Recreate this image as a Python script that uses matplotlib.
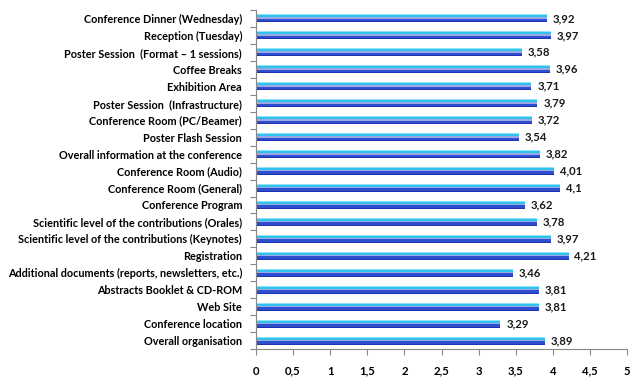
import matplotlib
matplotlib.use("Agg")
import matplotlib.pyplot as plt
from matplotlib.ticker import FixedLocator
import numpy as np

categories = [
    "Conference Dinner (Wednesday)",
    "Reception (Tuesday)",
    "Poster Session  (Format \u2013 1 sessions)",
    "Coffee Breaks",
    "Exhibition Area",
    "Poster Session  (Infrastructure)",
    "Conference Room (PC/Beamer)",
    "Poster Flash Session",
    "Overall information at the conference",
    "Conference Room (Audio)",
    "Conference Room (General)",
    "Conference Program",
    "Scientific level of the contributions (Orales)",
    "Scientific level of the contributions (Keynotes)",
    "Registration",
    "Additional documents (reports, newsletters, etc.)",
    "Abstracts Booklet & CD-ROM",
    "Web Site",
    "Conference location",
    "Overall organisation",
]
values = [3.92, 3.97, 3.58, 3.96, 3.71, 3.79, 3.72, 3.54, 3.82, 4.01,
          4.1, 3.62, 3.78, 3.97, 4.21, 3.46, 3.81, 3.81, 3.29, 3.89]
labels = ["3,92", "3,97", "3,58", "3,96", "3,71", "3,79", "3,72", "3,54", "3,82", "4,01",
          "4,1", "3,62", "3,78", "3,97", "4,21", "3,46", "3,81", "3,81", "3,29", "3,89"]
xticks = [0, 0.5, 1, 1.5, 2, 2.5, 3, 3.5, 4, 4.5, 5]
xticklabels = ["0", "0,5", "1", "1,5", "2", "2,5", "3", "3,5", "4", "4,5", "5"]

plt.rcParams['font.family'] = ['Lato', 'DejaVu Sans']

fig = plt.figure(figsize=(6.4, 3.82), dpi=100)
ax = fig.add_axes([0.4, 0.086, 0.58, 0.888])

n = len(categories)
ypos = np.arange(n)[::-1]  # first category at top
bar_h = 0.48
stripes = [(0.12, "#8FE4F8"), (0.25, "#2EC2EC"), (0.18, "#9CA8E4"), (0.30, "#2E4ECF"), (0.15, "#1F33B0")]

for y, v in zip(ypos, values):
    top = y + bar_h / 2
    for frac, col in stripes:
        h = frac * bar_h
        ax.barh(top - h / 2, v, height=h, left=0, color=col, edgecolor="none")
        top -= h

fs = 7.8
for y, v, lab in zip(ypos, values, labels):
    ax.text(v + 0.08, y, lab, va="center", ha="left", fontsize=8.2, fontweight="bold", color="#1a1a1a")

ax.set_xlim(0, 5)
ax.set_ylim(-0.5, n - 0.5)
ax.set_xticks(xticks)
ax.set_xticklabels(xticklabels, fontsize=8.2, fontweight="bold")
ax.set_yticks(ypos)
ax.set_yticklabels(categories, fontsize=fs, fontweight="bold")
ax.tick_params(axis="y", which="major", length=0, pad=10)
ax.yaxis.set_minor_locator(FixedLocator(np.arange(-0.5, n, 1.0)))
ax.tick_params(axis="y", which="minor", length=4, color="#888888", width=0.8)
ax.tick_params(axis="x", length=4, color="#888888", width=0.8, pad=8)

for s in ["top", "right"]:
    ax.spines[s].set_visible(False)
for s in ["left", "bottom"]:
    ax.spines[s].set_color("#888888")
    ax.spines[s].set_linewidth(0.8)

fig.savefig("out.png", dpi=100)
